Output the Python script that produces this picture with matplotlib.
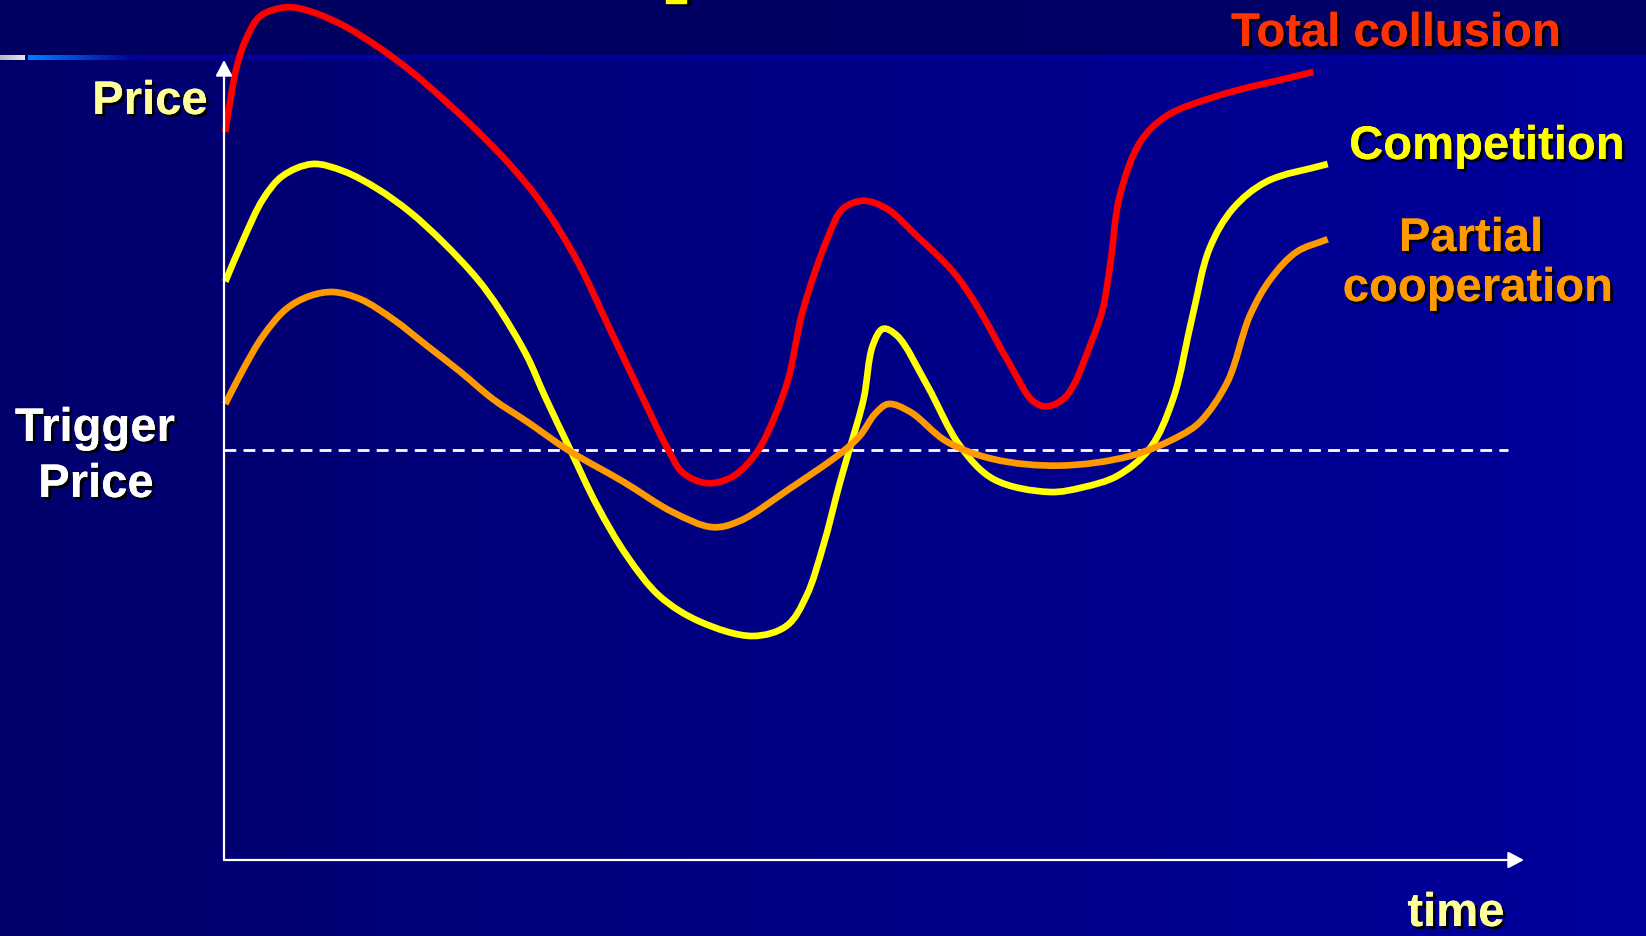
import numpy as np
import matplotlib
matplotlib.use("Agg")
import matplotlib.pyplot as plt
from matplotlib.path import Path
from matplotlib.patches import PathPatch, Rectangle
import matplotlib.patheffects as pe

plt.rcParams['lines.scale_dashes'] = False
FONT = ['Liberation Sans', 'DejaVu Sans']

# time (0-100 along the arrow) and price (0-100 up the arrow)
collusion_t = [0.1, 0.5, 1.0, 1.8, 2.8, 4.8, 6.6, 9.2, 11.7, 14.3, 16.8, 19.5, 22.0, 24.5,
               27.2, 29.7, 32.0, 34.1, 35.3, 37.2, 39.2, 41.0, 42.2, 43.4, 44.5, 46.4,
               47.6, 49.2, 51.0, 53.3, 56.1, 57.9, 60.5, 62.2, 63.3, 64.8, 66.8, 67.6, 68.2,
               68.9, 70.5, 72.5, 76.4, 83.8]
collusion_p = [91.0, 95.1, 99.3, 103.0, 105.5, 106.6, 106.1, 104.3, 101.8, 98.7, 95.2, 91.1,
               86.9, 81.9, 74.8, 66.3, 58.5, 51.5, 48.4, 47.1, 48.0, 51.0, 54.8, 60.1,
               68.5, 77.6, 81.4, 82.4, 81.4, 78.0, 73.5, 69.3, 61.8, 57.4, 56.7, 58.0, 65.1,
               68.9, 74.8, 83.0, 89.8, 93.0, 95.5, 98.5]

competition_t = [0.1, 1.5, 3.0, 4.5, 6.8, 9.2, 11.8, 14.3, 16.8, 19.5, 21.2, 23.3, 24.7, 26.6,
                 28.7, 31.0, 33.5, 36.6, 40.7, 43.3, 44.8, 46.1, 47.4, 48.2, 49.2, 49.9, 50.7,
                 51.8, 54.1, 56.6, 59.2, 63.5, 66.1, 68.7, 71.2, 73.0, 74.5, 75.8, 77.6, 80.2,
                 84.9]
competition_p = [72.3, 77.6, 82.6, 85.5, 87.0, 86.1, 83.9, 81.0, 77.3, 72.6, 68.8, 63.0, 57.9,
                 51.4, 44.3, 38.0, 33.0, 29.8, 28.0, 29.3, 33.0, 39.3, 47.3, 51.8, 57.6, 64.3,
                 66.4, 65.5, 59.3, 51.8, 47.6, 46.0, 46.6, 48.0, 51.4, 57.6, 68.0, 76.4, 81.4,
                 84.8, 87.0]

partial_t = [0.1, 1.5, 3.0, 4.8, 6.6, 8.4, 10.5, 13.0, 15.6, 18.2, 20.7, 23.3, 26.6, 30.7,
             34.5, 37.6, 39.7, 43.5, 47.4, 48.9, 50.1, 51.1, 52.8, 55.6, 59.2, 64.3, 69.7,
             73.5, 75.1, 77.2, 78.9, 80.5, 82.5, 84.9]
partial_p = [57.0, 61.4, 65.5, 68.9, 70.5, 71.0, 70.1, 67.6, 64.3, 61.0, 57.6, 54.8, 51.1, 47.3,
             43.5, 41.6, 42.4, 46.4, 50.8, 53.0, 55.8, 57.0, 56.0, 52.3, 50.1, 49.3, 50.5,
             53.0, 54.8, 59.8, 68.0, 72.6, 76.0, 77.6]

trigger_price = 51.2
trigger_end = 98.8

# pixels per unit, used to keep the curve smoothing even on screen
SX, SY = 13.0, 8.0


def smooth_path(x, y):
    # centripetal catmull-rom through the points, drawn as cubic beziers
    pts = np.column_stack([np.asarray(x) * SX, np.asarray(y) * SY])
    pts = np.vstack([2 * pts[0] - pts[1], pts, 2 * pts[-1] - pts[-2]])
    verts = [pts[1]]
    codes = [Path.MOVETO]
    for i in range(1, len(pts) - 2):
        p0, p1, p2, p3 = pts[i - 1], pts[i], pts[i + 1], pts[i + 2]
        d1 = np.linalg.norm(p1 - p0) ** 0.5
        d2 = np.linalg.norm(p2 - p1) ** 0.5
        d3 = np.linalg.norm(p3 - p2) ** 0.5
        b1 = (d1 ** 2 * p2 - d2 ** 2 * p0 + (2 * d1 ** 2 + 3 * d1 * d2 + d2 ** 2) * p1) / (3 * d1 * (d1 + d2))
        b2 = (d3 ** 2 * p1 - d2 ** 2 * p3 + (2 * d3 ** 2 + 3 * d3 * d2 + d2 ** 2) * p2) / (3 * d3 * (d3 + d2))
        verts += [b1, b2, p2]
        codes += [Path.CURVE4] * 3
    verts = np.array(verts) / [SX, SY]
    return Path(verts, codes)


W, H = 1646, 937
fig = plt.figure(figsize=(W / 100, H / 100), dpi=100)

# background: dark header band, horizontal blue gradient below
bg = fig.add_axes([0, 0, 1, 1])
bg.set_xlim(0, W)
bg.set_ylim(H, 0)
bg.axis('off')
g = np.linspace(0, 1, W)
img = np.zeros((H, W, 3))
img[:, :, 2] = (0x6c + (0x9c - 0x6c) * g) / 255
img[:56, :, 2] = (0x60 + 0x08 * g) / 255
img[56:61, :, 2] = 0xa2 / 255
gl = np.linspace(0.72, 0.9, 25)
img[56:61, :25, :] = gl[None, :, None]
img[56:61, 25:28, :] = [0, 0, 0x6c / 255]
bl = np.linspace(0, 1, 105)
img[56:61, 28:133, 0] = 0
img[56:61, 28:133, 1] = (0x80 * (1 - bl)) / 255
img[56:61, 28:133, 2] = (0xff - (0xff - 0xa2) * bl) / 255
bg.imshow(img, extent=(0, W, H, 0), aspect='auto', interpolation='nearest')
bg.add_patch(Rectangle((669, 0), 21, 6, color='black'))
bg.add_patch(Rectangle((666, 0), 20, 4, color='#ffff00'))

ax = fig.add_axes([224 / W, 76 / H, 1300 / W, 800 / H])
ax.set_xlim(0, 100)
ax.set_ylim(0, 100)
ax.axis('off')
ax.patch.set_alpha(0)

ax.plot([0, trigger_end], [trigger_price, trigger_price], color='white', lw=2,
        dashes=(8.5, 5.2), zorder=1)

for t, p, c in [(collusion_t, collusion_p, '#ff0000'),
                (competition_t, competition_p, '#ffff00'),
                (partial_t, partial_p, '#ff9900')]:
    ax.add_patch(PathPatch(smooth_path(t, p), fill=False, edgecolor=c, lw=4.8,
                           capstyle='butt', joinstyle='round', clip_on=False, zorder=2))

arrow = dict(arrowstyle='-|>,head_length=0.95,head_width=0.5', color='white', lw=1.6,
             shrinkA=0, shrinkB=0, mutation_scale=10)
ax.annotate('', xy=(0, 100), xytext=(0, 0), arrowprops=arrow, annotation_clip=False, zorder=3)
ax.annotate('', xy=(100, 0), xytext=(0, 0), arrowprops=arrow, annotation_clip=False, zorder=3)

shadow = [pe.withSimplePatchShadow(offset=(2, -2), shadow_rgbFace='black', alpha=1.0), pe.Normal()]


def label(x, y, s, color):
    fig.text(x / W, 1 - y / H, s, ha='center', va='baseline', color=color, fontsize=34,
             fontweight='bold', family=FONT, path_effects=shadow)


label(1396, 47, 'Total collusion', '#ff3300')
label(1487, 160, 'Competition', '#ffff00')
label(1471, 252, 'Partial', '#ff9900')
label(1478, 302, 'cooperation', '#ff9900')
label(150, 115, 'Price', '#ffff99')
label(95, 442, 'Trigger', 'white')
label(96, 498, 'Price', 'white')
label(1456, 927, 'time', '#ffff99')

fig.savefig('out.png', dpi=100)
